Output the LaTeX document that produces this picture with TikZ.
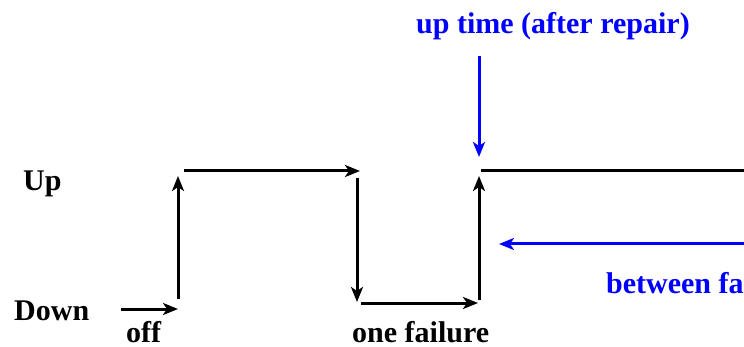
\documentclass[tikz,border=0pt]{standalone}
\usepackage{fontspec}
\setmainfont{Liberation Serif}
\usetikzlibrary{arrows.meta}
\definecolor{pureblue}{RGB}{0,0,255}
\begin{document}
\begin{tikzpicture}[x=1pt,y=-1pt,
  lbl/.style={inner sep=0pt,anchor=base west,font=\fontsize{30}{33}\selectfont\bfseries},
  bluelbl/.style={lbl,text=pureblue},
  wire/.style={line width=3pt},
  arr/.style={wire,-{Stealth[length=15pt,width=12pt,inset=4pt]}},
  bluearr/.style={arr,draw=pureblue}]
\useasboundingbox (0,0) rectangle (744,347);
\clip (0,0) rectangle (744,347);

% state labels and annotations
\node[lbl] (up) at (23,191) {Up};
\node[lbl] (down) at (14,320) {Down};
\node[lbl] (off) at (126,342) {off};
\node[lbl] (fail) at (352,342) {one failure};
\node[bluelbl] (uptime) at (416,34) {up time (after repair)};
\node[bluelbl] (between) at (606,294) {between failures};

% corner points of the state trace
\coordinate (s0) at (121,309);
\coordinate (s1) at (178,309);
\coordinate (s2) at (178,299);
\coordinate (s3) at (178,176);
\coordinate (s4) at (184,171);
\coordinate (s5) at (360,171);
\coordinate (s6) at (357,178);
\coordinate (s7) at (357,302);
\coordinate (s8) at (361,303);
\coordinate (s9) at (478,303);
\coordinate (s10) at (479,300);
\coordinate (s11) at (479,176);
\coordinate (s12) at (481,171);
\coordinate (s13) at (760,171);

% state trace
\draw[arr] (s0) -- (s1);
\draw[arr] (s2) -- (s3);
\draw[arr] (s4) -- (s5);
\draw[arr] (s6) -- (s7);
\draw[arr] (s8) -- (s9);
\draw[arr] (s10) -- (s11);
\draw[wire] (s12) -- (s13);

% annotation arrows
\coordinate (b0) at (479,56);
\coordinate (b1) at (479,157);
\coordinate (b2) at (760,244);
\coordinate (b3) at (499,244);
\draw[bluearr] (b0) -- (b1);
\draw[bluearr] (b2) -- (b3);
\end{tikzpicture}
\end{document}
